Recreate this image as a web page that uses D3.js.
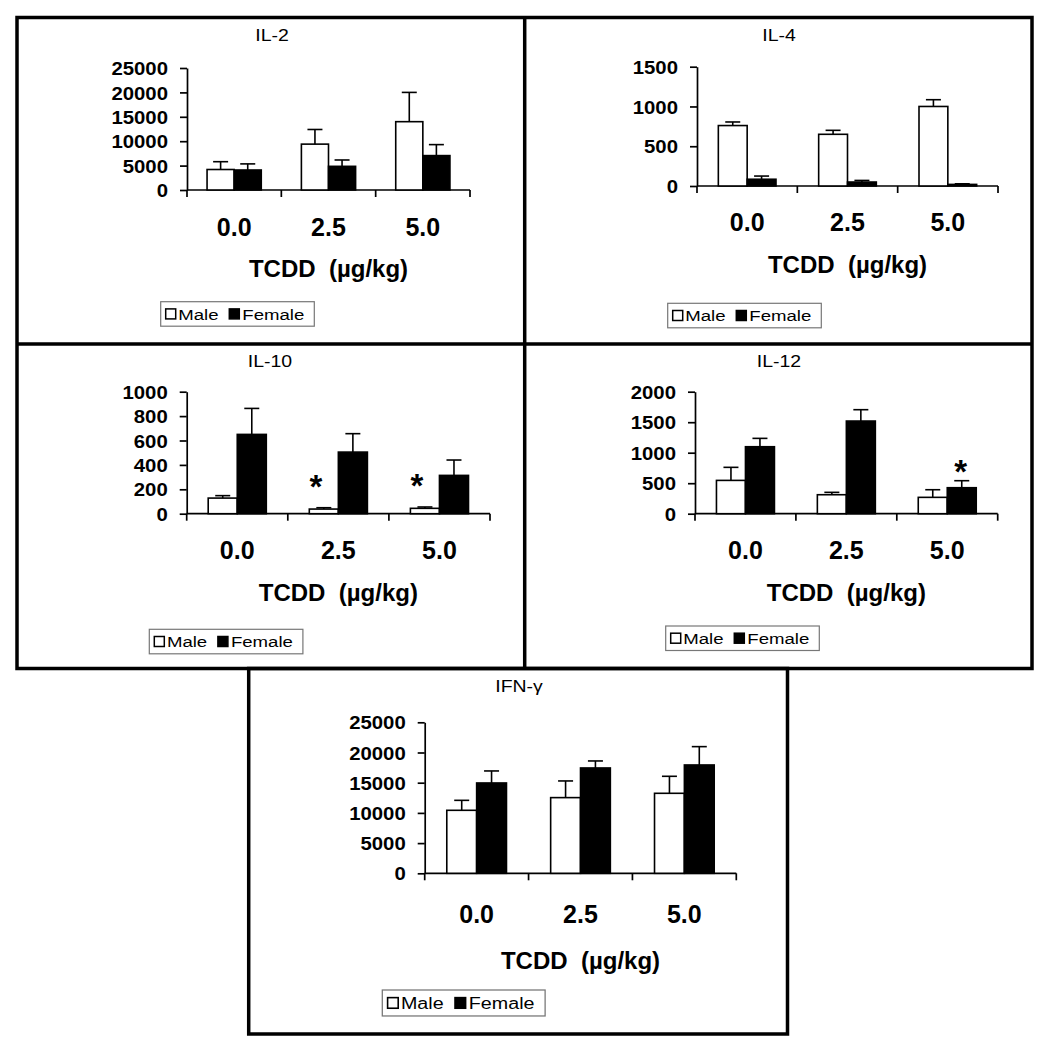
<!DOCTYPE html>
<html>
<head>
<meta charset="utf-8">
<script src="https://cdn.jsdelivr.net/npm/d3@7"></script>
<style>
  body { margin: 0; background: #fff; }
  text { font-family: "Liberation Sans", Arial, sans-serif; fill: #000; }
</style>
</head>
<body>
<svg id="chart" width="1050" height="1050"></svg>
<script>
var doses = ["0.0", "2.5", "5.0"];
var sexes = ["Male", "Female"];
var xTitle = "TCDD  (\u00b5g/kg)";

// means and SEM
var il2Male = [4200, 9400, 14000];
var il2MaleSem = [1600, 3000, 6000];
var il2Female = [4100, 4850, 7050];
var il2FemaleSem = [1250, 1300, 2250];
var il2Ticks = [0, 5000, 10000, 15000, 20000, 25000];

var il4Male = [760, 650, 1000];
var il4MaleSem = [45, 50, 85];
var il4Female = [85, 50, 20];
var il4FemaleSem = [40, 20, 8];
var il4Ticks = [0, 500, 1000, 1500];

var il10Male = [128, 38, 44];
var il10MaleSem = [20, 11, 11];
var il10Female = [650, 505, 314];
var il10FemaleSem = [213, 151, 126];
var il10Ticks = [0, 200, 400, 600, 800, 1000];
var il10Stars = [{dose: "2.5", sex: "Male"}, {dose: "5.0", sex: "Male"}];

var il12Male = [546, 311, 268];
var il12MaleSem = [214, 39, 125];
var il12Female = [1098, 1519, 426];
var il12FemaleSem = [137, 186, 115];
var il12Ticks = [0, 500, 1000, 1500, 2000];
var il12Stars = [{dose: "5.0", sex: "Female"}];

var ifnMale = [10430, 12530, 13245];
var ifnMaleSem = [1650, 2760, 2815];
var ifnFemale = [14955, 17440, 17936];
var ifnFemaleSem = [1990, 1160, 3035];
var ifnTicks = [0, 5000, 10000, 15000, 20000, 25000];

var panels = [
   { title: "IL-2", male: il2Male, maleSem: il2MaleSem, female: il2Female, femaleSem: il2FemaleSem, ticks: il2Ticks, stars: [] },
   { title: "IL-4", male: il4Male, maleSem: il4MaleSem, female: il4Female, femaleSem: il4FemaleSem, ticks: il4Ticks, stars: [] },
   { title: "IL-10", male: il10Male, maleSem: il10MaleSem, female: il10Female, femaleSem: il10FemaleSem, ticks: il10Ticks, stars: il10Stars },
   { title: "IL-12", male: il12Male, maleSem: il12MaleSem, female: il12Female, femaleSem: il12FemaleSem, ticks: il12Ticks, stars: il12Stars },
   { title: "IFN-\u03b3", male: ifnMale, maleSem: ifnMaleSem, female: ifnFemale, femaleSem: ifnFemaleSem, ticks: ifnTicks, stars: [] }
];

// page layout of each panel
var layouts = [
   { x0: 187, x1: 470, y0: 68, y1: 190, tx: 272, ty: 35, lx: 160.7, ly: 301.7, lk: 1, labDy: 37, titDy: 78, starUp: 28 },
   { x0: 697, x1: 998, y0: 66.7, y1: 186, tx: 779, ty: 35, lx: 667.7, ly: 303.3, lk: 1, labDy: 36, titDy: 78, starUp: 28 },
   { x0: 186.7, x1: 490, y0: 391.7, y1: 513.7, tx: 270, ty: 361, lx: 149.3, ly: 629.3, lk: 1, labDy: 36.5, titDy: 79, starUp: 28 },
   { x0: 695, x1: 997.7, y0: 391.7, y1: 513.7, tx: 779, ty: 361, lx: 665.7, ly: 626, lk: 1, labDy: 36.5, titDy: 79, starUp: 16 },
   { x0: 424.7, x1: 736.3, y0: 722.3, y1: 873.3, tx: 519, ty: 686, lx: 382.3, ly: 990, lk: 1.06, labDy: 40.5, titDy: 87, starUp: 16 }
];

var svg = d3.select("#chart");

// panel frames
var frame = svg.append("g").attr("fill", "none").attr("stroke", "#000").attr("stroke-width", 3.5);
frame.append("rect").attr("x", 17).attr("y", 17.5).attr("width", 1015).attr("height", 651);
frame.append("line").attr("x1", 524.7).attr("y1", 17.5).attr("x2", 524.7).attr("y2", 668.5);
frame.append("line").attr("x1", 17).attr("y1", 344).attr("x2", 1032).attr("y2", 344);
frame.append("rect").attr("x", 248.7).attr("y", 668.5).attr("width", 538.8).attr("height", 365.5);

function drawPanel(p, L) {
   var g = svg.append("g");

   var x = d3.scaleBand().domain(doses).range([L.x0, L.x1]).padding(0);
   var xs = d3.scaleBand().domain(sexes).range([0, x.bandwidth()]).paddingInner(0).paddingOuter(0.74);
   var y = d3.scaleLinear().domain([0, d3.max(p.ticks)]).range([L.y1, L.y0]);

   // title
   g.append("text")
      .attr("transform", "translate(" + L.tx + "," + L.ty + ") scale(1.18,1)")
      .attr("text-anchor", "middle").attr("dy", "0.36em")
      .style("font-size", "16.5px")
      .text(p.title);

   // y axis
   var ya = g.append("g").attr("transform", "translate(" + L.x0 + ",0)")
      .call(d3.axisLeft(y).tickValues(p.ticks).tickSize(7).tickSizeOuter(0).tickFormat(d3.format("d")));
   ya.selectAll("path, line").attr("stroke", "#000").attr("stroke-width", 1.7);
   ya.selectAll("text")
      .attr("x", -19 / 1.1).attr("dy", "0.36em")
      .attr("transform", "scale(1.1,1)")
      .style("font-size", "18.5px").style("font-weight", "bold").style("font-family", "Liberation Sans, Arial, sans-serif");

   // x axis: baseline with ticks at band edges
   var edges = doses.map(function(d) { return x(d); }).concat([L.x1]);
   g.append("line")
      .attr("x1", L.x0).attr("x2", L.x1).attr("y1", L.y1).attr("y2", L.y1)
      .attr("stroke", "#000").attr("stroke-width", 1.7);
   g.selectAll(".xtick").data(edges).enter().append("line")
      .attr("x1", function(d) { return d; }).attr("x2", function(d) { return d; })
      .attr("y1", L.y1).attr("y2", L.y1 + 7)
      .attr("stroke", "#000").attr("stroke-width", 1.7);
   g.selectAll(".xlab").data(doses).enter().append("text")
      .attr("x", function(d) { return x(d) + x.bandwidth() / 2; })
      .attr("y", L.y1 + L.labDy).attr("dy", "0.36em")
      .attr("text-anchor", "middle")
      .style("font-size", "25px").style("font-weight", "bold")
      .text(function(d) { return d; });
   g.append("text")
      .attr("x", (L.x0 + L.x1) / 2).attr("y", L.y1 + L.titDy).attr("dy", "0.36em")
      .attr("text-anchor", "middle")
      .style("font-size", "24px").style("font-weight", "bold").style("white-space", "pre")
      .text(xTitle);

   // bars
   var rows = [];
   doses.forEach(function(d, i) {
      rows.push({ dose: d, sex: "Male", v: p.male[i], e: p.maleSem[i] });
      rows.push({ dose: d, sex: "Female", v: p.female[i], e: p.femaleSem[i] });
   });
   function cx(r) { return x(r.dose) + xs(r.sex) + xs.bandwidth() / 2; }

   g.selectAll(".bar").data(rows).enter().append("rect")
      .attr("x", function(r) { return x(r.dose) + xs(r.sex); })
      .attr("y", function(r) { return y(r.v); })
      .attr("width", xs.bandwidth())
      .attr("height", function(r) { return y(0) - y(r.v); })
      .attr("fill", function(r) { return r.sex == "Male" ? "#fff" : "#000"; })
      .attr("stroke", "#000").attr("stroke-width", 1.6);

   // error bars (upper only)
   var eb = g.selectAll(".err").data(rows).enter().append("g").attr("stroke", "#000").attr("stroke-width", 1.6);
   eb.append("line")
      .attr("x1", cx).attr("x2", cx)
      .attr("y1", function(r) { return y(r.v); })
      .attr("y2", function(r) { return y(r.v + r.e); });
   eb.append("line")
      .attr("x1", function(r) { return cx(r) - 7.5; }).attr("x2", function(r) { return cx(r) + 7.5; })
      .attr("y1", function(r) { return y(r.v + r.e); })
      .attr("y2", function(r) { return y(r.v + r.e); });

   // significance marks
   p.stars.forEach(function(s) {
      var r = rows.filter(function(q) { return q.dose == s.dose && q.sex == s.sex; })[0];
      g.append("text")
         .attr("x", cx(r) - (s.sex == "Male" ? 8 : 1))
         .attr("y", y(r.v + r.e) - L.starUp + 18.5)
         .attr("text-anchor", "middle")
         .style("font-size", "33px").style("font-weight", "bold")
         .text("*");
   });

   // legend
   var k = L.lk;
   var lg = g.append("g").attr("transform", "translate(" + L.lx + "," + L.ly + ") scale(" + k + ")");
   lg.append("rect").attr("width", 153.6).attr("height", 24.5)
      .attr("fill", "#fff").attr("stroke", "#777").attr("stroke-width", 1.2);
   var items = [ { label: "Male", fill: "#fff", sx: 5, tx: 17.6 }, { label: "Female", fill: "#000", sx: 68.6, tx: 81.6 } ];
   items.forEach(function(it) {
      lg.append("rect").attr("x", it.sx).attr("y", 7.2).attr("width", 10).attr("height", 10)
         .attr("fill", it.fill).attr("stroke", "#000").attr("stroke-width", 1.5);
      lg.append("text")
         .attr("transform", "translate(" + it.tx + ",12.3) scale(1.2,1)")
         .attr("dy", "0.36em")
         .style("font-size", "15.5px")
         .text(it.label);
   });
}

panels.forEach(function(p, i) { drawPanel(p, layouts[i]); });
</script>
</body>
</html>
